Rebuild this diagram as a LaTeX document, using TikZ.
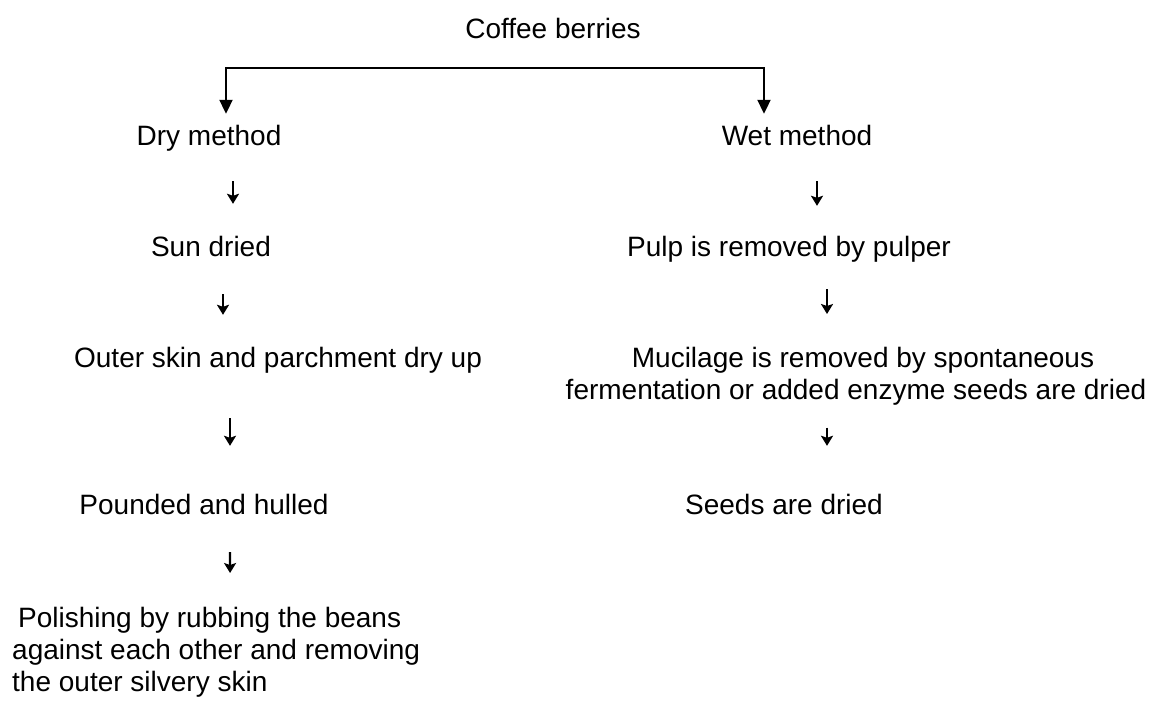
\documentclass[tikz,border=0pt]{standalone}
\usepackage{fontspec}
\setmainfont{Liberation Sans}
\usetikzlibrary{arrows.meta}

\begin{document}
\begin{tikzpicture}[x=1pt,y=1pt]
    \tikzset{stage/.style= {inner sep=0, anchor=base, text height=20pt, text depth=6pt, font={\fontsize{28}{32}\selectfont}} }
    \tikzset{para/.style= {inner sep=0, font={\fontsize{28}{32}\selectfont}} }
    \tikzset{flow/.style 2 args= {-{Stealth[length=10pt,width=12pt,inset=2pt]}, line width=2.2pt, shorten <=#1, shorten >=#2} }
    \tikzset{split/.style= {arrows={Triangle[length=14pt,width=13pt]-Triangle[length=14pt,width=13pt]}, line width=2pt} }

    \useasboundingbox (0,0) rectangle (1158,-702);

    \node[stage] (coffee) at (553,-38) {Coffee berries};

    % dry side
    \node[stage] (dry) at (209,-145) {Dry method};
    \node[stage] (sun) at (211,-256) {Sun dried};
    \node[stage] (outer) at (278,-367) {Outer skin and parchment dry up};
    \node[stage] (pounded) at (204,-514) {Pounded and hulled};
    \node[para, align=left, anchor=north west] (polish) at (12,-607) {\hspace*{6pt}Polishing by rubbing the beans\\against each other and removing\\the outer silvery skin};

    % wet side
    \node[stage] (wet) at (797,-145) {Wet method};
    \node[stage] (pulp) at (789,-256) {Pulp is removed by pulper};
    \node[para, align=center, anchor=north] (mucilage) at (856,-347) {\hspace*{14pt}Mucilage is removed by spontaneous\\fermentation or added enzyme seeds are dried};
    \node[stage] (seeds) at (784,-514) {Seeds are dried};

    \draw[split] ([xshift=17pt,yshift=11pt]dry.north) |- ([yshift=-30pt]coffee.base) -| ([xshift=-33pt,yshift=11pt]wet.north);

    \draw[flow={30pt}{32pt}] ([xshift=24pt]dry.south) -- ([xshift=22pt]sun.north);
    \draw[flow={32pt}{32pt}] ([xshift=12pt]sun.south) -- ([xshift=-55pt]outer.north);
    \draw[flow={45pt}{48pt}] ([xshift=-48pt]outer.south) -- ([xshift=26pt]pounded.north);
    \draw[flow={32pt}{34pt}] ([xshift=26pt]pounded.south) -- ([xshift=14pt]polish.north);

    \draw[flow={30pt}{30pt}] ([xshift=20pt]wet.south) -- ([xshift=28pt]pulp.north);
    \draw[flow={27pt}{33pt}] ([xshift=38pt]pulp.south) -- ([xshift=-29pt]mucilage.north);
    \draw[flow={22pt}{48pt}] ([xshift=-29pt]mucilage.south) -- ([xshift=43pt]seeds.north);
\end{tikzpicture}
\end{document}
